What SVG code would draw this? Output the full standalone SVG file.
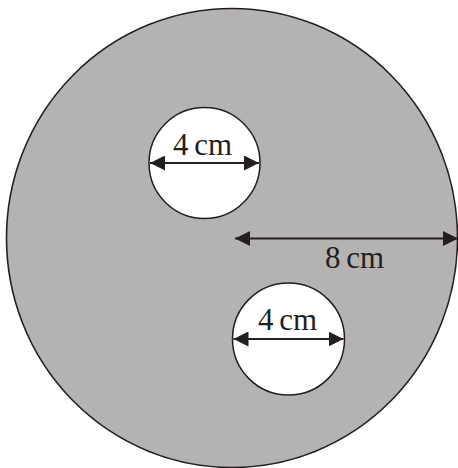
<svg xmlns="http://www.w3.org/2000/svg" width="458" height="468" viewBox="0 0 458 468">
<style>
.lbl{font-family:"Liberation Serif","Times New Roman",serif;font-size:31px;fill:#231f20;word-spacing:-2px}
.dim{stroke:#231f20;stroke-width:2;fill:none}
</style>
<defs>
<marker id="ah" viewBox="0 0 15 15" refX="15" refY="7.5" markerWidth="15" markerHeight="15" markerUnits="userSpaceOnUse" orient="auto-start-reverse">
<path d="M0,0 L15,7.5 L0,15 Z" fill="#231f20"/>
</marker>
</defs>
<rect width="458" height="468" fill="#ffffff"/>
<g id="outer">
<ellipse cx="232" cy="238" rx="225.5" ry="229.5" fill="#b4b3b2" stroke="#231f20" stroke-width="1.6"/>
</g>
<g id="hole1">
<circle cx="204.5" cy="163" r="55.5" fill="#ffffff" stroke="#231f20" stroke-width="1.5"/>
<text class="lbl" x="173" y="155">4 cm</text>
</g>
<g id="hole2">
<circle cx="288.5" cy="339" r="56" fill="#ffffff" stroke="#231f20" stroke-width="1.5"/>
<text class="lbl" x="258" y="330">4 cm</text>
</g>
<g id="label8">
<text class="lbl" x="325" y="268">8 cm</text>
</g>
<g id="connectors">
<line class="dim" x1="150" y1="163" x2="259" y2="163" marker-start="url(#ah)" marker-end="url(#ah)"/>
<line class="dim" x1="233.5" y1="339" x2="343.5" y2="339" marker-start="url(#ah)" marker-end="url(#ah)"/>
<line class="dim" x1="235" y1="238.5" x2="458" y2="238.5" marker-start="url(#ah)" marker-end="url(#ah)"/>
</g>
</svg>
